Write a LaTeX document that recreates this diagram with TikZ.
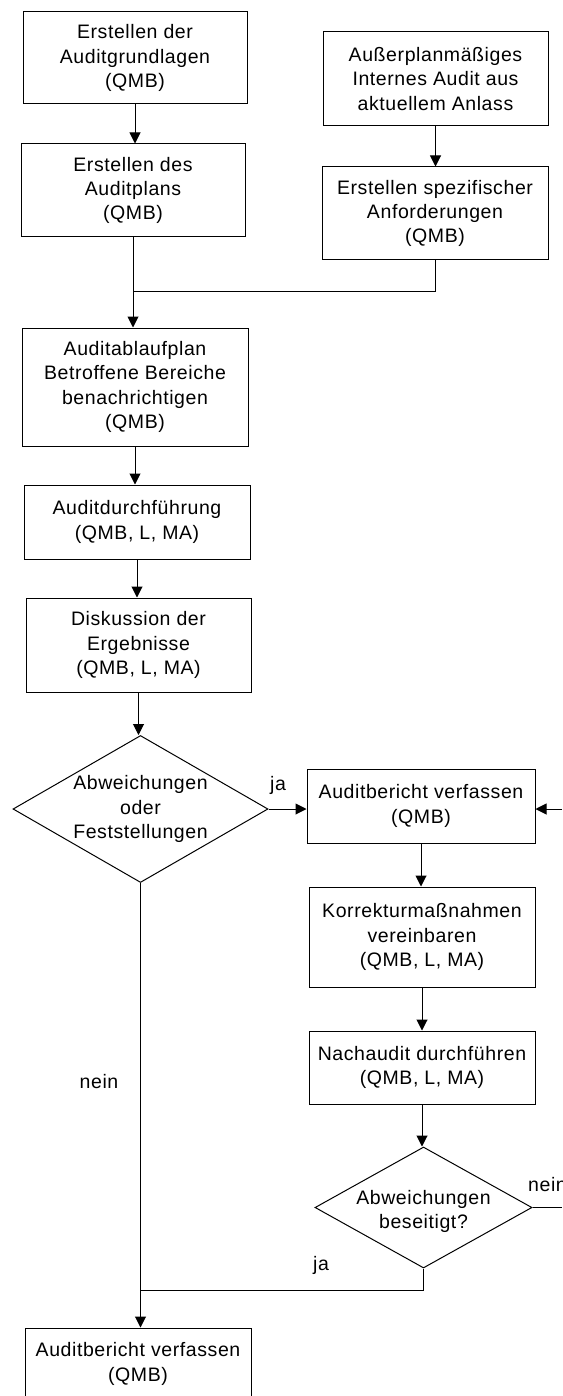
\documentclass[tikz,border=0pt]{standalone}
\usepackage{fontspec}
\setmainfont{Liberation Sans}[LetterSpace=3]
\usetikzlibrary{shapes.geometric,arrows.meta}

\begin{document}
\begin{tikzpicture}[x=1pt,y=-1pt,
  txt/.style={font=\fontsize{19.5}{24.3}\selectfont},
  proc/.style={draw=black, line width=1pt, fill=white, align=center, inner sep=0pt, txt},
  dec/.style={draw=black, line width=1pt, diamond, inner sep=0pt},
  dectext/.style={align=center, txt},
  lbl/.style={inner sep=0pt, txt},
  link/.style={draw=black, line width=1pt},
  arr/.style={link, -{Triangle[length=11pt,width=11pt]}}
]
\useasboundingbox (0,0) rectangle (562,1396);

% left column
\node[proc, minimum width=224pt, minimum height=92pt] (b1) at (135,58)
  {Erstellen der\\Auditgrundlagen\\(QMB)};
\node[proc, minimum width=224pt, minimum height=93pt] (b2) at (133,190.5)
  {Erstellen des\\Auditplans\\(QMB)};

% right column, top
\node[proc, minimum width=225pt, minimum height=94pt] (r1) at (435.5,79)
  {Außerplanmäßiges\\Internes Audit aus\\aktuellem Anlass};
\node[proc, minimum width=226pt, minimum height=93pt] (r2) at (435,213.5)
  {Erstellen spezifischer\\Anforderungen\\(QMB)};

% main sequence
\node[proc, minimum width=226pt, minimum height=118pt] (b3) at (135,387)
  {Auditablaufplan\\Betroffene Bereiche\\benachrichtigen\\(QMB)};
\node[proc, minimum width=226pt, minimum height=74pt] (b4) at (137,522)
  {Auditdurchführung\\(QMB, L, MA)};
\node[proc, minimum width=225pt, minimum height=94pt] (b5) at (138.5,645)
  {Diskussion der\\Ergebnisse\\(QMB, L, MA)};
\node[dec, minimum width=255pt, minimum height=147pt,
  label={[dectext]center:Abweichungen\\oder\\Feststellungen}] (d1) at (140.5,809) {};

% follow-up branch
\node[proc, minimum width=228pt, minimum height=74pt] (b6) at (421,806)
  {Auditbericht verfassen\\(QMB)};
\node[proc, minimum width=226pt, minimum height=100pt] (b7) at (422,937)
  {Korrekturmaßnahmen\\vereinbaren\\(QMB, L, MA)};
\node[proc, minimum width=226pt, minimum height=73pt] (b8) at (422,1067.5)
  {Nachaudit durchführen\\(QMB, L, MA)};
\node[dec, minimum width=217pt, minimum height=121pt,
  label={[dectext,yshift=-4pt]center:Abweichungen\\beseitigt?}] (d2) at (423.5,1207.5) {};

% final report
\node[proc, minimum width=226pt, minimum height=72pt] (b9) at (138,1364)
  {Auditbericht verfassen\\(QMB)};

% branch labels
\node[lbl] (ja1) at (278,785) {ja};
\node[lbl] (nein1) at (99,1082) {nein};
\node[lbl] (ja2) at (321,1265) {ja};
\node[lbl, anchor=west] (nein2) at (528,1185) {nein};

% junctions and loose ends
\coordinate (j1) at (b2.south |- 0,292);
\coordinate (j2) at (d1.south |- 0,1290);
\coordinate (e1) at (562,809);
\coordinate (e2) at (562,1207.5);

% connectors
\draw[arr] (b1.south) -- (b1.south |- b2.north);
\draw[arr] (r1.south) -- (r1.south |- r2.north);
\draw[link] (b2.south) -- (j1);
\draw[link] (r2.south) |- (j1);
\draw[arr] (j1) -- (j1 |- b3.north);
\draw[arr] (b3.south) -- (b3.south |- b4.north);
\draw[arr] (b4.south) -- (b4.south |- b5.north);
\draw[arr] (b5.south) -- (b5.south |- d1.north);
\draw[arr] (d1.east) -- (d1.east -| b6.west);
\draw[arr] (d1.south) -- (d1.south |- b9.north);
\draw[arr] (b6.south) -- (b6.south |- b7.north);
\draw[arr] (b7.south) -- (b7.south |- b8.north);
\draw[arr] (b8.south) -- (b8.south |- d2.north);
\draw[link] (d2.south) |- (j2);
\draw[link] (d2.east) -- (e2);
\draw[arr] (e1) -- (e1 -| b6.east);
\end{tikzpicture}
\end{document}
